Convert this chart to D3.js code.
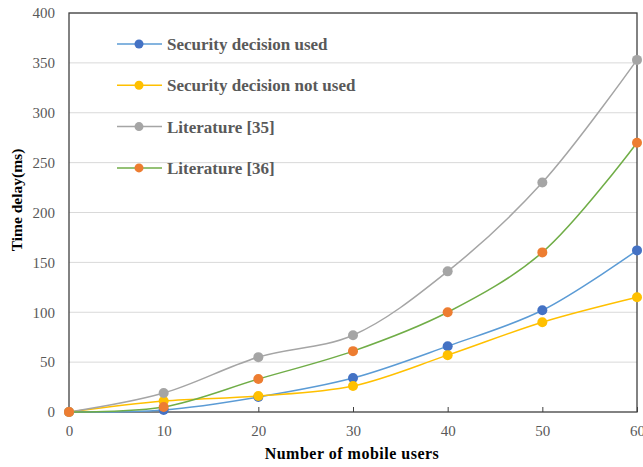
<!DOCTYPE html>
<meta charset="utf-8">
<style>
    body { margin: 0; background: #fff; }
    .tick text { font-family: "Liberation Serif", "Times New Roman", serif; font-size: 15px; fill: #595959; }
    .axis-title { font-family: "Liberation Serif", "Times New Roman", serif; font-weight: bold; fill: #000; }
    .legend text { font-family: "Liberation Serif", "Times New Roman", serif; font-size: 17px; font-weight: bold; fill: #595959; }
</style>
<svg width="643" height="467"></svg>
<script src="https://cdnjs.cloudflare.com/ajax/libs/d3/7.8.5/d3.min.js"></script>
<script>

    var users = [0, 10, 20, 30, 40, 50, 60];
    var secUsed = [0, 2, 15, 34, 66, 102, 162];
    var secNotUsed = [0, 11, 16, 26, 57, 90, 115];
    var lit35 = [0, 19, 55, 77, 141, 230, 353];
    var lit36 = [0, 5, 33, 61, 100, 160, 270];
    var seriesNames = ["Security decision used", "Security decision not used", "Literature [35]", "Literature [36]"];
    var lineColors = ["#5B9BD5", "#FFC000", "#A5A5A5", "#70AD47"];
    var dotColors = ["#4472C4", "#FFC000", "#A5A5A5", "#ED7D31"];
    var yTicks = [0, 50, 100, 150, 200, 250, 300, 350, 400];

    var allSeries = [secUsed, secNotUsed, lit35, lit36];

    // plot box (named so it doesn't clash with window.top)
    var pLeft = 69, pRight = 637, pTop = 13, pBottom = 412;

    var svg = d3.select("svg");

    var x = d3.scaleLinear().domain([0, 60]).range([pLeft, pRight]);
    var y = d3.scaleLinear().domain([0, 400]).range([pBottom, pTop]);

    // gridlines
    svg.append("g").selectAll("line")
        .data(yTicks.slice(1))
        .enter().append("line")
        .attr("x1", pLeft).attr("x2", pRight)
        .attr("y1", d => y(d)).attr("y2", d => y(d))
        .attr("stroke", "#d9d9d9").attr("stroke-width", 1);

    // axes
    var yAxis = svg.append("g")
        .attr("transform", "translate(" + pLeft + ",0)")
        .call(d3.axisLeft(y).tickValues(yTicks).tickSize(0).tickPadding(14));
    yAxis.select(".domain").remove();

    var xAxis = svg.append("g")
        .attr("transform", "translate(0," + pBottom + ")")
        .call(d3.axisBottom(x).tickValues(users).tickSizeInner(-5).tickSizeOuter(0).tickPadding(13));
    xAxis.select(".domain").remove();
    xAxis.selectAll(".tick line").attr("stroke", "#404040");

    // frame
    svg.append("rect")
        .attr("x", pLeft).attr("y", pTop)
        .attr("width", pRight - pLeft).attr("height", pBottom - pTop)
        .attr("fill", "none").attr("stroke", "#404040").attr("stroke-width", 1.3);

    var line = d3.line()
        .x((d, i) => x(users[i]))
        .y(d => y(d))
        .curve(d3.curveCatmullRom.alpha(0.5));

    allSeries.forEach(function (s, k) {
        svg.append("path")
            .datum(s)
            .attr("d", line)
            .attr("fill", "none")
            .attr("stroke", lineColors[k])
            .attr("stroke-width", 1.5);
    });

    allSeries.forEach(function (s, k) {
        svg.append("g").selectAll("circle")
            .data(s)
            .enter().append("circle")
            .attr("cx", (d, i) => x(users[i]))
            .attr("cy", d => y(d))
            .attr("r", 5)
            .attr("fill", dotColors[k]);
    });

    // legend
    var legend = svg.append("g").attr("class", "legend");
    seriesNames.forEach(function (name, k) {
        var ly = 44 + k * 41.3;
        legend.append("line")
            .attr("x1", 117).attr("x2", 162)
            .attr("y1", ly).attr("y2", ly)
            .attr("stroke", lineColors[k]).attr("stroke-width", 1.5);
        legend.append("circle")
            .attr("cx", 139).attr("cy", ly).attr("r", 4.5)
            .attr("fill", dotColors[k]);
        legend.append("text")
            .attr("x", 167).attr("y", ly + 6)
            .text(name);
    });

    // axis titles
    svg.append("text")
        .attr("class", "axis-title")
        .attr("x", 352).attr("y", 459)
        .attr("text-anchor", "middle")
        .style("font-size", "16px")
        .style("letter-spacing", "0.5px")
        .text("Number of mobile users");

    svg.append("text")
        .attr("class", "axis-title")
        .attr("transform", "translate(22,200) rotate(-90)")
        .attr("text-anchor", "middle")
        .style("font-size", "15.5px")
        .text("Time delay(ms)");

</script>
